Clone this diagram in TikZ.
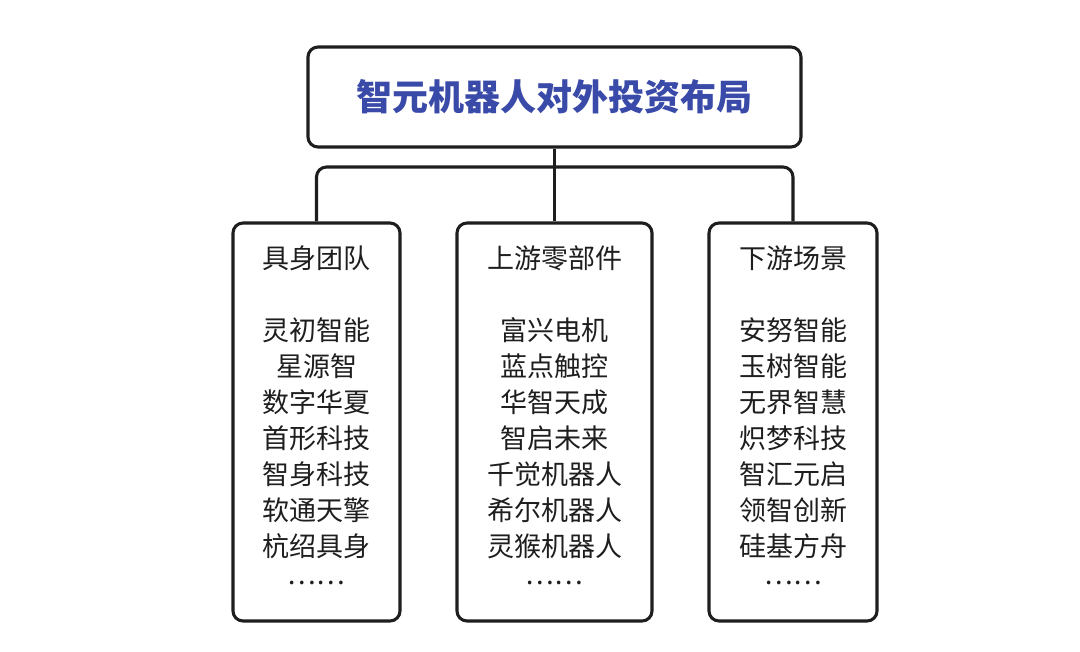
\documentclass[tikz,border=0pt]{standalone}
\usepackage{fontspec}
\setmainfont{Noto Sans CJK SC}
\definecolor{titleblue}{HTML}{3A4AA8}
\definecolor{ink}{HTML}{1E1E1E}
\newcommand{\mydots}{\raisebox{6pt}{……}}
\begin{document}
\begin{tikzpicture}[x=0.75pt,y=-0.75pt,
  box/.style={draw=ink,line width=2.3pt,rounded corners=7.5pt,inner sep=0pt},
  colbox/.style={box,minimum height=398*0.75pt},
  coltext/.style={inner sep=0pt,align=center,text=ink,
    font=\fontsize{20.25pt}{27pt}\selectfont},
  link/.style={draw=ink,line width=2.3pt}]
\useasboundingbox (0,0) rectangle (1080,651);
\fill[white] (0,0) rectangle (1080,651);
\node[box,minimum width=493*0.75pt,minimum height=100*0.75pt,text=titleblue,
  font=\fontsize{27pt}{30pt}\selectfont\bfseries] (T) at (554.5,97) {智元机器人对外投资布局};
\node[colbox,minimum width=167*0.75pt] (L) at (316.5,422) {};
\node[colbox,minimum width=195*0.75pt] (M) at (554.5,422) {};
\node[colbox,minimum width=168*0.75pt] (R) at (793,422) {};
\node[coltext] (Lt) at (316.5,419) {具身团队\\ \\灵初智能\\星源智\\数字华夏\\首形科技\\智身科技\\软通天擎\\杭绍具身\\\mydots};
\node[coltext] (Mt) at (554.5,419) {上游零部件\\ \\富兴电机\\蓝点触控\\华智天成\\智启未来\\千觉机器人\\希尔机器人\\灵猴机器人\\\mydots};
\node[coltext] (Rt) at (793,419) {下游场景\\ \\安努智能\\玉树智能\\无界智慧\\炽梦科技\\智汇元启\\领智创新\\硅基方舟\\\mydots};
\coordinate (bar) at (554.5,167);
\draw[link] (T.south) -- (M.north);
\draw[link,rounded corners=7.5pt] (L.north) |- (bar) -| (R.north);
\end{tikzpicture}
\end{document}
